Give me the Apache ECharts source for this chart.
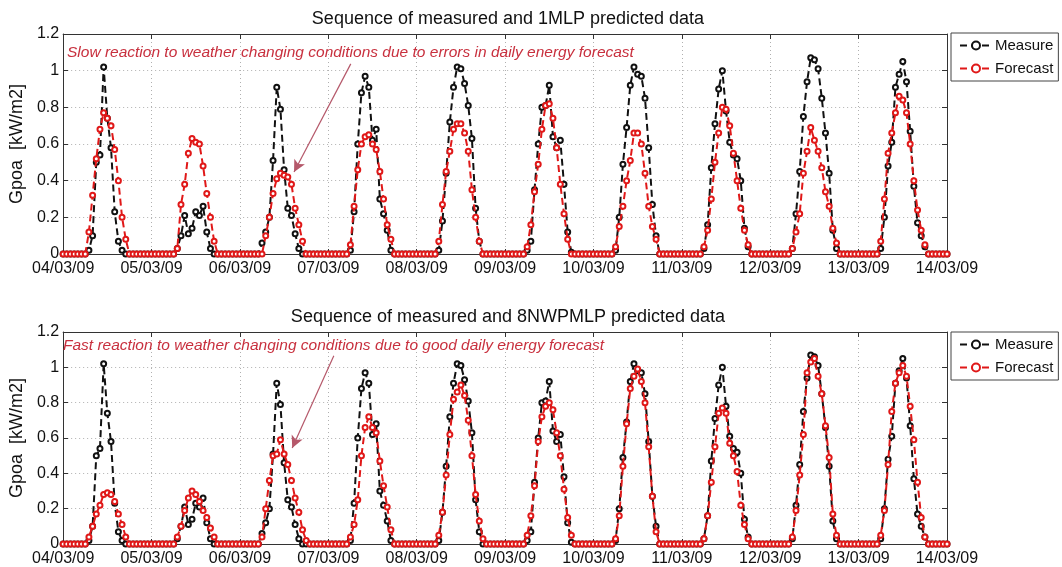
<!DOCTYPE html>
<html>
<head>
<meta charset="utf-8">
<script src="https://cdn.jsdelivr.net/npm/echarts@6/dist/echarts.min.js"></script>
<style>
html,body{margin:0;padding:0;background:#fff;}
#chart{width:1062px;height:567px;}
</style>
</head>
<body>
<div id="chart"></div>
<script>
// ---- tick labels (days) ----
const dayLabels = ['04/03/09','05/03/09','06/03/09','07/03/09','08/03/09','09/03/09','10/03/09','11/03/09','12/03/09','13/03/09','14/03/09'];
const yTicks = [0, 0.2, 0.4, 0.6, 0.8, 1, 1.2];

// ---- hourly measured irradiance (kW/m2), one row of 24 hours per day ----
const measure = [
  0,0,0,0,0,0,0,0.02,0.10,0.50,0.54,1.02,0.74,0.58,0.23,0.07,0.02,0,0,0,0,0,0,0,
  0,0,0,0,0,0,0,0.03,0.10,0.21,0.11,0.14,0.23,0.21,0.26,0.12,0.03,0,0,0,0,0,0,0,
  0,0,0,0,0,0,0.06,0.12,0.20,0.51,0.91,0.79,0.46,0.25,0.21,0.11,0.03,0,0,0,0,0,0,0,
  0,0,0,0,0,0,0.02,0.23,0.60,0.88,0.97,0.91,0.62,0.68,0.30,0.22,0.13,0.02,0,0,0,0,0,0,
  0,0,0,0,0,0,0.02,0.18,0.44,0.72,0.91,1.02,1.01,0.93,0.81,0.63,0.25,0.07,0,0,0,0,0,0,
  0,0,0,0,0,0,0.02,0.07,0.35,0.60,0.80,0.81,0.92,0.64,0.58,0.62,0.38,0.12,0.01,0,0,0,0,0,
  0,0,0,0,0,0,0.02,0.20,0.49,0.69,0.92,1.02,0.98,0.97,0.85,0.58,0.27,0.10,0,0,0,0,0,0,
  0,0,0,0,0,0,0.03,0.16,0.47,0.71,0.90,1.00,0.78,0.61,0.54,0.52,0.40,0.14,0.04,0,0,0,0,0,
  0,0,0,0,0,0,0.03,0.22,0.45,0.75,0.94,1.07,1.06,1.01,0.85,0.66,0.44,0.13,0.03,0,0,0,0,0,
  0,0,0,0,0,0,0.03,0.20,0.48,0.61,0.91,0.98,1.05,0.94,0.67,0.37,0.17,0.10,0.04,0,0,0,0,0,
  0
];

// ---- 1MLP forecast ----
const forecast1MLP = [
  0,0,0,0,0,0,0,0.12,0.32,0.52,0.68,0.77,0.74,0.70,0.57,0.40,0.20,0.08,0,0,0,0,0,0,
  0,0,0,0,0,0,0,0.03,0.27,0.38,0.55,0.63,0.61,0.60,0.48,0.33,0.20,0.07,0,0,0,0,0,0,
  0,0,0,0,0,0,0,0.10,0.20,0.33,0.41,0.44,0.43,0.42,0.38,0.25,0.16,0.07,0,0,0,0,0,0,
  0,0,0,0,0,0,0.05,0.26,0.46,0.60,0.64,0.65,0.60,0.57,0.45,0.30,0.16,0.08,0,0,0,0,0,0,
  0,0,0,0,0,0,0.07,0.27,0.45,0.56,0.68,0.71,0.71,0.66,0.56,0.35,0.20,0.07,0,0,0,0,0,0,
  0,0,0,0,0,0,0.04,0.16,0.34,0.49,0.68,0.81,0.82,0.74,0.58,0.38,0.22,0.08,0,0,0,0,0,0,
  0,0,0,0,0,0,0.04,0.15,0.26,0.40,0.51,0.66,0.66,0.60,0.44,0.26,0.15,0.08,0,0,0,0,0,0,
  0,0,0,0,0,0,0.04,0.13,0.30,0.50,0.66,0.80,0.79,0.70,0.55,0.40,0.25,0.13,0.05,0,0,0,0,0,
  0,0,0,0,0,0,0.03,0.12,0.22,0.44,0.56,0.69,0.62,0.56,0.47,0.34,0.26,0.14,0.06,0,0,0,0,0,
  0,0,0,0,0,0,0.07,0.30,0.55,0.66,0.77,0.86,0.84,0.77,0.60,0.40,0.24,0.13,0.05,0,0,0,0,0,
  0
];

// ---- 8NWPMLP forecast ----
const forecast8NWPMLP = [
  0,0,0,0,0,0,0,0.04,0.10,0.17,0.22,0.28,0.29,0.28,0.24,0.17,0.11,0.04,0,0,0,0,0,0,
  0,0,0,0,0,0,0,0.04,0.10,0.19,0.26,0.30,0.28,0.24,0.19,0.15,0.09,0.04,0,0,0,0,0,0,
  0,0,0,0,0,0,0.04,0.20,0.36,0.50,0.51,0.59,0.51,0.45,0.36,0.26,0.18,0.08,0.02,0,0,0,0,0,
  0,0,0,0,0,0,0.04,0.11,0.25,0.50,0.66,0.72,0.66,0.63,0.47,0.33,0.21,0.08,0,0,0,0,0,0,
  0,0,0,0,0,0,0.05,0.18,0.39,0.62,0.82,0.86,0.90,0.84,0.70,0.50,0.28,0.13,0.03,0,0,0,0,0,
  0,0,0,0,0,0,0.05,0.16,0.33,0.58,0.72,0.78,0.80,0.76,0.63,0.50,0.31,0.15,0.05,0,0,0,0,0,
  0,0,0,0,0,0,0.03,0.16,0.44,0.68,0.88,0.95,0.99,0.92,0.80,0.55,0.27,0.07,0,0,0,0,0,0,
  0,0,0,0,0,0,0.03,0.16,0.35,0.55,0.74,0.77,0.74,0.57,0.50,0.41,0.22,0.11,0.03,0,0,0,0,0,
  0,0,0,0,0,0,0.04,0.19,0.39,0.62,0.97,1.03,1.05,0.95,0.85,0.67,0.49,0.17,0.05,0,0,0,0,0,
  0,0,0,0,0,0,0.05,0.19,0.45,0.75,0.91,0.97,1.01,0.95,0.78,0.59,0.35,0.15,0.04,0,0,0,0,0,
  0
];

const titles = ['Sequence of measured and 1MLP predicted data', 'Sequence of measured and 8NWPMLP predicted data'];
const notes = ['Slow reaction to weather changing conditions due to errors in daily energy forecast',
               'Fast reaction to weather changing conditions due to good daily energy forecast'];
// arrow endpoints in data units [hour, kW/m2]
const arrowTop = [[78.1, 1.037], [62.7, 0.447]];
const arrowBottom = [[73.5, 1.066], [62.2, 0.544]];

const toPairs = arr => arr.map((v, i) => [i, v]);

const FONT = 'Liberation Sans, Arial, Helvetica, sans-serif';
const RED = '#e01818';
const NOTE_RED = '#c8303e';
const ARROW = '#b5586a';

const grids = [
  {left: 59, top: 34, width: 888, height: 220},
  {left: 59, top: 332, width: 888, height: 214}
];

function bottomX(gi) {
  return {
    type: 'value', gridIndex: gi, min: 0, max: 240, interval: 24, position: 'bottom',
    axisLine: {show: true, onZero: false, lineStyle: {color: '#333', width: 1}},
    axisTick: {show: true, inside: true, length: 5, lineStyle: {color: '#333'}},
    axisLabel: {show: true, margin: 7, color: '#111', fontSize: 16, fontFamily: FONT,
      formatter: v => dayLabels[Math.round(v / 24)]},
    splitLine: {show: true, lineStyle: {color: '#b0b0b0', type: [1, 3], width: 1}}
  };
}
function topX(gi) {
  return {
    type: 'value', gridIndex: gi, min: 0, max: 240, interval: 24, position: 'top',
    axisLine: {show: true, onZero: false, lineStyle: {color: '#333', width: 1}},
    axisTick: {show: true, inside: true, length: 5, lineStyle: {color: '#333'}},
    axisLabel: {show: false}, splitLine: {show: false}
  };
}
function leftY(gi) {
  return {
    type: 'value', gridIndex: gi, min: 0, max: 1.2, interval: 0.2, position: 'left',
    name: 'Gpoa  [kW/m2]', nameLocation: 'middle', nameGap: 26,
    nameTextStyle: {fontSize: 18, color: '#111', fontFamily: FONT},
    axisLine: {show: true, onZero: false, lineStyle: {color: '#333', width: 1}},
    axisTick: {show: true, inside: true, length: 5, lineStyle: {color: '#333'}},
    axisLabel: {show: true, margin: 4, color: '#111', fontSize: 16, fontFamily: FONT,
      formatter: v => { const t = yTicks.find(x => Math.abs(x - v) < 1e-6); return t === undefined ? '' : String(t); }},
    splitLine: {show: true, lineStyle: {color: '#b0b0b0', type: [1, 3], width: 1}}
  };
}
function rightY(gi) {
  return {
    type: 'value', gridIndex: gi, min: 0, max: 1.2, interval: 0.2, position: 'right',
    axisLine: {show: true, onZero: false, lineStyle: {color: '#333', width: 1}},
    axisTick: {show: true, inside: true, length: 5, lineStyle: {color: '#333'}},
    axisLabel: {show: false}, splitLine: {show: false}
  };
}

function lineSeries(name, data, color, xi, yi, z, arrow) {
  const s = {
    name: name, type: 'line', data: toPairs(data), xAxisIndex: xi, yAxisIndex: yi, z: z,
    symbol: 'emptyCircle', symbolSize: 5, showAllSymbol: true,
    lineStyle: {color: color, width: 2, type: [7, 4]},
    itemStyle: {color: color, borderColor: color, borderWidth: 1.1},
    emphasis: {disabled: true}, animation: false
  };
  if (arrow) {
    s.markLine = {
      silent: true, symbol: ['none', 'arrow'], symbolSize: [9, 12],
      lineStyle: {color: ARROW, width: 1.2, type: 'solid'},
      label: {show: false},
      data: [[{coord: arrow[0]}, {coord: arrow[1], itemStyle: {color: '#d03040'}}]]
    };
  }
  return s;
}

function legend(top) {
  return {
    orient: 'vertical', left: 951, top: top, data: ['Measure', 'Forecast'],
    itemWidth: 32, itemHeight: 10, itemGap: 8,
    padding: [5, 5, 5, 8],
    borderColor: '#444', borderWidth: 1, backgroundColor: '#fff',
    textStyle: {fontSize: 15, color: '#111', fontFamily: FONT, padding: [0, 0, 0, -2]},
    selectedMode: false
  };
}

const option = {
  animation: false,
  backgroundColor: '#fff',
  title: [
    {text: titles[0], left: 503, top: 5, textAlign: 'center',
     textStyle: {fontSize: 18, fontWeight: 'normal', color: '#111', fontFamily: FONT}},
    {text: titles[1], left: 503, top: 303, textAlign: 'center',
     textStyle: {fontSize: 18, fontWeight: 'normal', color: '#111', fontFamily: FONT}}
  ],
  legend: [legend(33), legend(332)],
  grid: grids,
  xAxis: [bottomX(0), bottomX(1), topX(0), topX(1)],
  yAxis: [leftY(0), leftY(1), rightY(0), rightY(1)],
  series: [
    lineSeries('Measure', measure, '#111', 0, 0, 2, null),
    lineSeries('Forecast', forecast1MLP, RED, 0, 0, 3, arrowTop),
    lineSeries('Measure', measure, '#111', 1, 1, 2, null),
    lineSeries('Forecast', forecast8NWPMLP, RED, 1, 1, 3, arrowBottom)
  ],
  graphic: [
    {type: 'text', left: 67, top: 45, z: 10,
     style: {text: notes[0], fill: NOTE_RED, font: 'italic 15.5px ' + FONT}},
    {type: 'text', left: 63, top: 338, z: 10,
     style: {text: notes[1], fill: NOTE_RED, font: 'italic 15.5px ' + FONT}}
  ]
};

const chart = echarts.init(document.getElementById('chart'), null, {renderer: 'canvas'});
chart.setOption(option);
</script>
</body>
</html>
